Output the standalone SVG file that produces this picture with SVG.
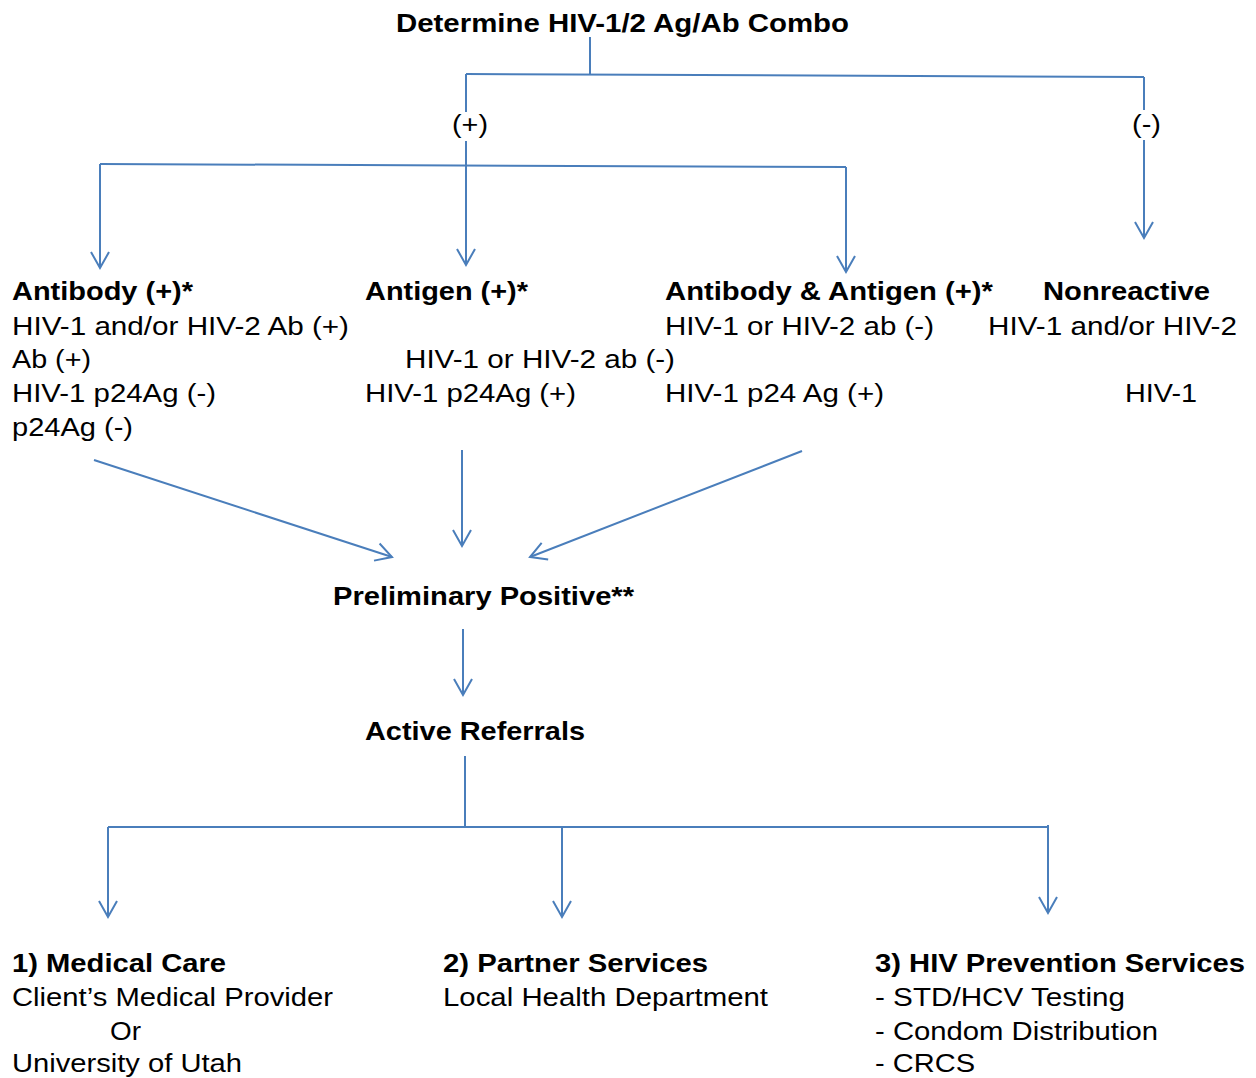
<svg xmlns="http://www.w3.org/2000/svg" width="1256" height="1078" viewBox="0 0 1256 1078">
<style>
text{font-family:"Liberation Sans",Arial,sans-serif;font-size:26px;fill:#000}
.b{font-weight:bold}
.c{fill:none;stroke:#4A7EBB;stroke-width:2}
</style>
<defs>
<marker id="ah" markerUnits="userSpaceOnUse" markerWidth="40" markerHeight="40" viewBox="-20 -20 40 40" refX="0" refY="0" orient="auto">
<path d="M-16,-9 L0,0 L-16,9" fill="none" stroke="#4A7EBB" stroke-width="2"/>
</marker>
</defs>
<rect width="1256" height="1078" fill="#fff"/>
<g id="connectors">
<path class="c" d="M590,37 V74"/>
<path class="c" d="M466,74 L1144,77"/>
<path class="c" d="M466,74 V112"/>
<path class="c" d="M466,141 V265" marker-end="url(#ah)"/>
<path class="c" d="M1144,77 V110"/>
<path class="c" d="M1144,140 V238" marker-end="url(#ah)"/>
<path class="c" d="M100,164 L846,167"/>
<path class="c" d="M100,164 V268" marker-end="url(#ah)"/>
<path class="c" d="M846,167 V272" marker-end="url(#ah)"/>
<path class="c" d="M94,460 L392,557" marker-end="url(#ah)"/>
<path class="c" d="M462,450 V546" marker-end="url(#ah)"/>
<path class="c" d="M802,451 L530,557" marker-end="url(#ah)"/>
<path class="c" d="M463,629 V695" marker-end="url(#ah)"/>
<path class="c" d="M465,756 V827"/>
<path class="c" d="M108,827 H1048"/>
<path class="c" d="M108,827 V917" marker-end="url(#ah)"/>
<path class="c" d="M562,827 V917" marker-end="url(#ah)"/>
<path class="c" d="M1048,825 V913" marker-end="url(#ah)"/>
</g>
<g id="labels">
<text x="452" y="133" textLength="36" lengthAdjust="spacingAndGlyphs">(+)</text>
<text x="1132" y="133" textLength="29" lengthAdjust="spacingAndGlyphs">(-)</text>
</g>
<g id="n-title">
<text class="b" x="396" y="32" textLength="453" lengthAdjust="spacingAndGlyphs">Determine HIV-1/2 Ag/Ab Combo</text>
</g>
<g id="n-antibody">
<text class="b" x="12" y="300" textLength="181" lengthAdjust="spacingAndGlyphs">Antibody (+)*</text>
<text x="12" y="335" textLength="337" lengthAdjust="spacingAndGlyphs">HIV-1 and/or HIV-2 Ab (+)</text>
<text x="12" y="368" textLength="79" lengthAdjust="spacingAndGlyphs">Ab (+)</text>
<text x="12" y="402" textLength="204" lengthAdjust="spacingAndGlyphs">HIV-1 p24Ag (-)</text>
<text x="12" y="436" textLength="121" lengthAdjust="spacingAndGlyphs">p24Ag (-)</text>
</g>
<g id="n-antigen">
<text class="b" x="365" y="300" textLength="163" lengthAdjust="spacingAndGlyphs">Antigen (+)*</text>
<text x="405" y="368" textLength="270" lengthAdjust="spacingAndGlyphs">HIV-1 or HIV-2 ab (-)</text>
<text x="365" y="402" textLength="211" lengthAdjust="spacingAndGlyphs">HIV-1 p24Ag (+)</text>
</g>
<g id="n-both">
<text class="b" x="665" y="300" textLength="328" lengthAdjust="spacingAndGlyphs">Antibody &amp; Antigen (+)*</text>
<text x="665" y="335" textLength="269" lengthAdjust="spacingAndGlyphs">HIV-1 or HIV-2 ab (-)</text>
<text x="665" y="402" textLength="219" lengthAdjust="spacingAndGlyphs">HIV-1 p24 Ag (+)</text>
</g>
<g id="n-nonreactive">
<text class="b" x="1043" y="300" textLength="167" lengthAdjust="spacingAndGlyphs">Nonreactive</text>
<text x="988" y="335" textLength="249" lengthAdjust="spacingAndGlyphs">HIV-1 and/or HIV-2</text>
<text x="1125" y="402" textLength="72" lengthAdjust="spacingAndGlyphs">HIV-1</text>
</g>
<g id="n-prelim">
<text class="b" x="333" y="605" textLength="301" lengthAdjust="spacingAndGlyphs">Preliminary Positive**</text>
</g>
<g id="n-referrals">
<text class="b" x="365" y="740" textLength="220" lengthAdjust="spacingAndGlyphs">Active Referrals</text>
</g>
<g id="n-medical">
<text class="b" x="12" y="972" textLength="214" lengthAdjust="spacingAndGlyphs">1) Medical Care</text>
<text x="12" y="1006" textLength="321" lengthAdjust="spacingAndGlyphs">Client’s Medical Provider</text>
<text x="110" y="1040" textLength="31" lengthAdjust="spacingAndGlyphs">Or</text>
<text x="12" y="1072" textLength="230" lengthAdjust="spacingAndGlyphs">University of Utah</text>
</g>
<g id="n-partner">
<text class="b" x="443" y="972" textLength="265" lengthAdjust="spacingAndGlyphs">2) Partner Services</text>
<text x="443" y="1006" textLength="325" lengthAdjust="spacingAndGlyphs">Local Health Department</text>
</g>
<g id="n-prevention">
<text class="b" x="875" y="972" textLength="370" lengthAdjust="spacingAndGlyphs">3) HIV Prevention Services</text>
<text x="875" y="1006" textLength="250" lengthAdjust="spacingAndGlyphs">- STD/HCV Testing</text>
<text x="875" y="1040" textLength="283" lengthAdjust="spacingAndGlyphs">- Condom Distribution</text>
<text x="875" y="1072" textLength="100" lengthAdjust="spacingAndGlyphs">- CRCS</text>
</g>
</svg>
